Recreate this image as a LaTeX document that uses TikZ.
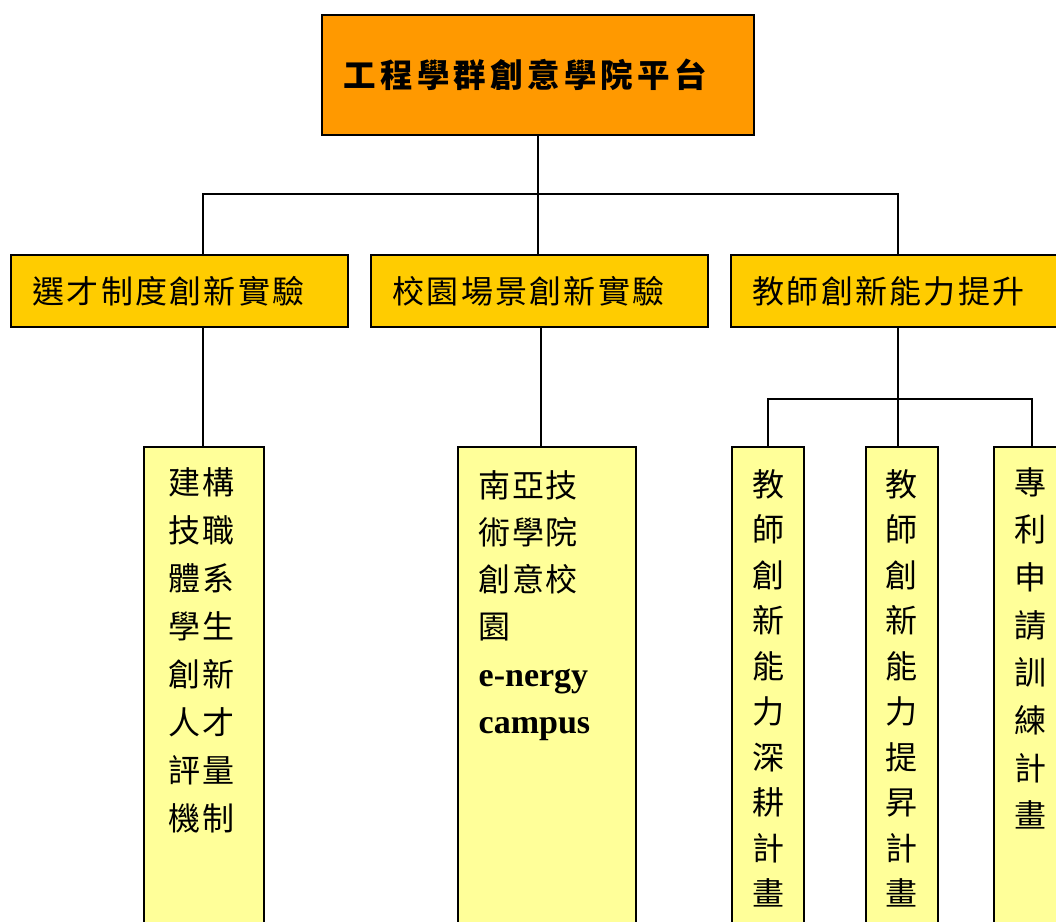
\documentclass[tikz,border=0pt]{standalone}
\usepackage{fontspec}
\setmainfont{Liberation Serif}
\newfontfamily\cjkT{Noto Sans CJK TC}[LetterSpace=13]
\newfontfamily\cjkM{Noto Sans CJK TC}[LetterSpace=7]
\newfontfamily\cjkS{Noto Sans CJK TC}[LetterSpace=5]
\newfontfamily\cjkV{Noto Sans CJK TC}
\definecolor{cTop}{RGB}{255,153,0}
\definecolor{cMid}{RGB}{255,204,0}
\definecolor{cLow}{RGB}{255,255,153}
\begin{document}
\begin{tikzpicture}[x=1pt,y=-1pt,
  conn/.style={draw=black,line width=1.6pt},
  box/.style={draw=black,line width=1.8pt,inner sep=0pt,anchor=north west},
  topbox/.style={box,fill=cTop,minimum width=432pt,minimum height=120pt},
  midbox/.style={box,fill=cMid,minimum width=337pt,minimum height=72pt},
  lowbox/.style={box,fill=cLow,minimum height=520pt},
  txt/.style={inner sep=0pt,text=black}]
\useasboundingbox (0,0) rectangle (1056,921);
\clip (0,0) rectangle (1056,921);

% boxes
\node[topbox] (top) at (321,14) {};
\node[midbox] (m1) at (10,254) {};
\node[midbox] (m2) at (370,254) {};
\node[midbox,minimum width=340pt] (m3) at (730,254) {};
\node[lowbox,minimum width=120pt] (bA) at (143,446) {};
\node[lowbox,minimum width=178pt] (bB) at (457,446) {};
\node[lowbox,minimum width=72pt] (bC) at (731,446) {};
\node[lowbox,minimum width=72pt] (bD) at (865,446) {};
\node[lowbox,minimum width=76pt] (bE) at (993,446) {};

% connector helper points
\coordinate (busy) at (0,194);
\coordinate (bus) at (top.south |- busy);
\coordinate (d1) at (203,0);
\coordinate (d2) at (541,0);
\coordinate (d3) at (898,0);
\coordinate (bus2) at (898,399);

\draw[conn] (top.south) -- (bus);
\draw[conn] (bus) -| (m1.north -| d1);
\draw[conn] (bus) -- (m2.north -| bus);
\draw[conn] (bus) -| (m3.north -| d3);
\draw[conn] (m1.south -| d1) -- (bA.north -| d1);
\draw[conn] (m2.south -| d2) -- (bB.north -| d2);
\draw[conn] (m3.south -| d3) -- (bus2);
\draw[conn] (bus2) -| (bC.north);
\draw[conn] (bus2) -- (bD.north -| bus2);
\draw[conn] (bus2) -| (bE.north);

% texts
\node[txt,anchor=west,font=\cjkT\bfseries\fontsize{32.5}{38}\selectfont] (tTop) at (343.5,75) {工程學群創意學院平台};
\node[txt,anchor=west,font=\cjkM\fontsize{32}{38}\selectfont] (t1) at ([xshift=22.5pt]m1.west) {選才制度創新實驗};
\node[txt,anchor=west,font=\cjkM\fontsize{32}{38}\selectfont] (t2) at ([xshift=22.5pt]m2.west) {校園場景創新實驗};
\node[txt,anchor=west,font=\cjkM\fontsize{32}{38}\selectfont] (t3) at ([xshift=22.5pt]m3.west) {教師創新能力提升};

\node[txt,anchor=north west,align=left,font=\cjkS\fontsize{32}{48}\selectfont] (tA) at ([xshift=25.5pt,yshift=-21pt]bA.north west)
  {建構\\技職\\體系\\學生\\創新\\人才\\評量\\機制};
\node[txt,anchor=north west,align=left,font=\cjkS\fontsize{32}{47.3}\selectfont] (tB) at ([xshift=21.5pt,yshift=-24pt]bB.north west)
  {南亞技\\術學院\\創意校\\園\\{\rmfamily\bfseries\fontsize{34}{47.3}\selectfont e-nergy}\\{\rmfamily\bfseries\fontsize{34}{47.3}\selectfont campus}};
\node[txt,anchor=north,align=center,font=\cjkV\fontsize{32}{45.5}\selectfont] (tC) at ([xshift=1pt,yshift=-23pt]bC.north)
  {教\\師\\創\\新\\能\\力\\深\\耕\\計\\畫};
\node[txt,anchor=north,align=center,font=\cjkV\fontsize{32}{45.5}\selectfont] (tD) at ([yshift=-23pt]bD.north)
  {教\\師\\創\\新\\能\\力\\提\\昇\\計\\畫};
\node[txt,anchor=north,align=center,font=\cjkV\fontsize{32}{47.7}\selectfont] (tE) at ([xshift=-1pt,yshift=-21pt]bE.north)
  {專\\利\\申\\請\\訓\\練\\計\\畫};
\end{tikzpicture}
\end{document}
